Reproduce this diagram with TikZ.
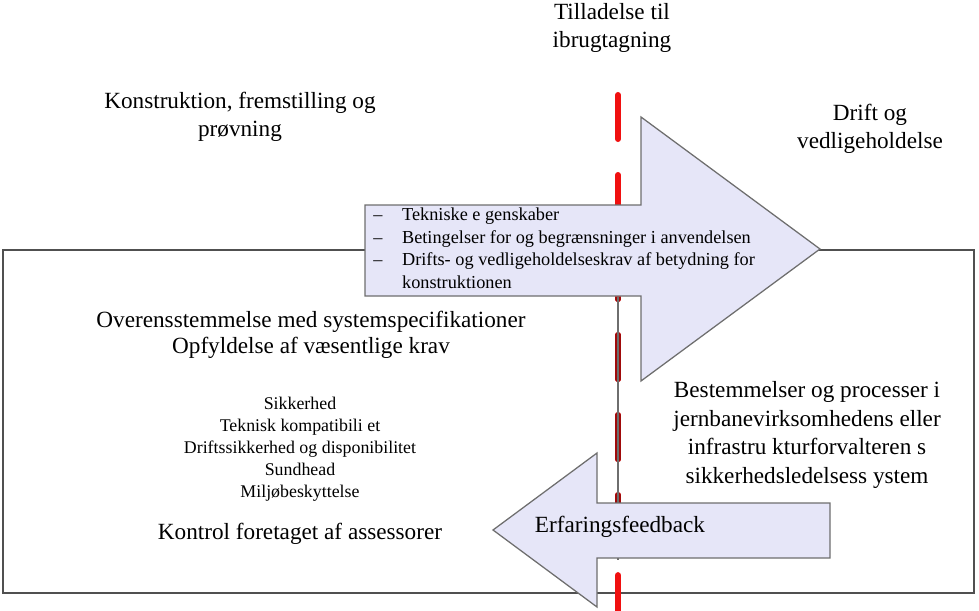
\documentclass[tikz,border=0pt]{standalone}
\usepackage{fontspec}
\setmainfont{Liberation Serif}
\usepackage{xcolor}
\usepackage{tikz}
\usetikzlibrary{positioning}
\definecolor{lavender}{HTML}{E6E6F8}
\definecolor{arrowgray}{HTML}{6E6E6E}
\definecolor{gatered}{HTML}{F01010}
\definecolor{darkred}{HTML}{A00A0A}
\definecolor{framegray}{HTML}{505050}

\begin{document}
\begin{tikzpicture}[x=0.025cm, y=-0.025cm,
  heading/.style={align=center, font=\fontsize{16.5}{20}\selectfont, inner sep=0pt},
  small/.style={align=center, font=\fontsize{12.7}{15.7}\selectfont, inner sep=0pt},
  blockarrow/.style={draw=arrowgray, fill=lavender, line width=0.9pt, line join=miter},
  gate/.style={draw=gatered, line width=0.15cm, line cap=round, dash pattern=on 1.1cm off 0.9cm},
  frame/.style={draw=framegray, line width=0.9pt}
]
  \useasboundingbox (0,0) rectangle (979,611);

  % outer frame
  \draw[frame] (3,250) rectangle (974,593);

  % permit line
  \coordinate (gatetop) at (618,95);
  \coordinate (gatebottom) at (618,640);
  \draw[gate] (gatetop) -- (gatebottom);
  \begin{scope}
    \clip (600,297) rectangle (640,560);
    \draw[gate, draw=darkred] (gatetop) -- (gatebottom);
    \draw[draw=arrowgray, line width=0.8pt] (618,297) -- (618,560);
  \end{scope}

  % main arrow
  \draw[blockarrow] (365,205) -- (641,205) -- (641,117) -- (820,249)
    -- (641,381) -- (641,296) -- (365,296) -- cycle;

  % feedback arrow
  \draw[blockarrow] (830,503) -- (597,503) -- (597,453) -- (493,530)
    -- (597,607) -- (597,558) -- (830,558) -- cycle;

  \node[heading] (permit) at (612,28) {Tilladelse til\\ibrugtagning};
  \node[heading] (build) at (240,117) {Konstruktion, fremstilling og\\prøvning};
  \node[heading] (operate) at (870,129) {Drift og\\vedligeholdelse};

  \node[anchor=west, inner sep=0pt, font=\fontsize{13}{16.1}\selectfont] (handover) at (373,250)
    {\begin{tabular}{@{}l@{\hspace{14pt}}l@{}}
      – & Tekniske e genskaber\\
      – & Betingelser for og begrænsninger i anvendelsen\\
      – & Drifts- og vedligeholdelseskrav af betydning for\\
        & konstruktionen
    \end{tabular}};

  \node[heading, font=\fontsize{16.5}{18.5}\selectfont] (compliance) at (311,335)
    {Overensstemmelse med systemspecifikationer\\Opfyldelse af væsentlige krav};
  \node[small] (requirements) at (300,449)
    {Sikkerhed\\Teknisk kompatibili et\\Driftssikkerhed og disponibilitet\\Sundhead\\Miljøbeskyttelse};
  \node[heading] (assessors) at (300,534) {Kontrol foretaget af assessorer};

  \node[heading, font=\fontsize{16.5}{20.5}\selectfont] (sms) at (807,435)
    {Bestemmelser og processer i\\jernbanevirksomhedens eller\\infrastru kturforvalteren s\\sikkerhedsledelsess ystem};
  \node[heading] (feedback) at (620,527) {Erfaringsfeedback};
\end{tikzpicture}
\end{document}
